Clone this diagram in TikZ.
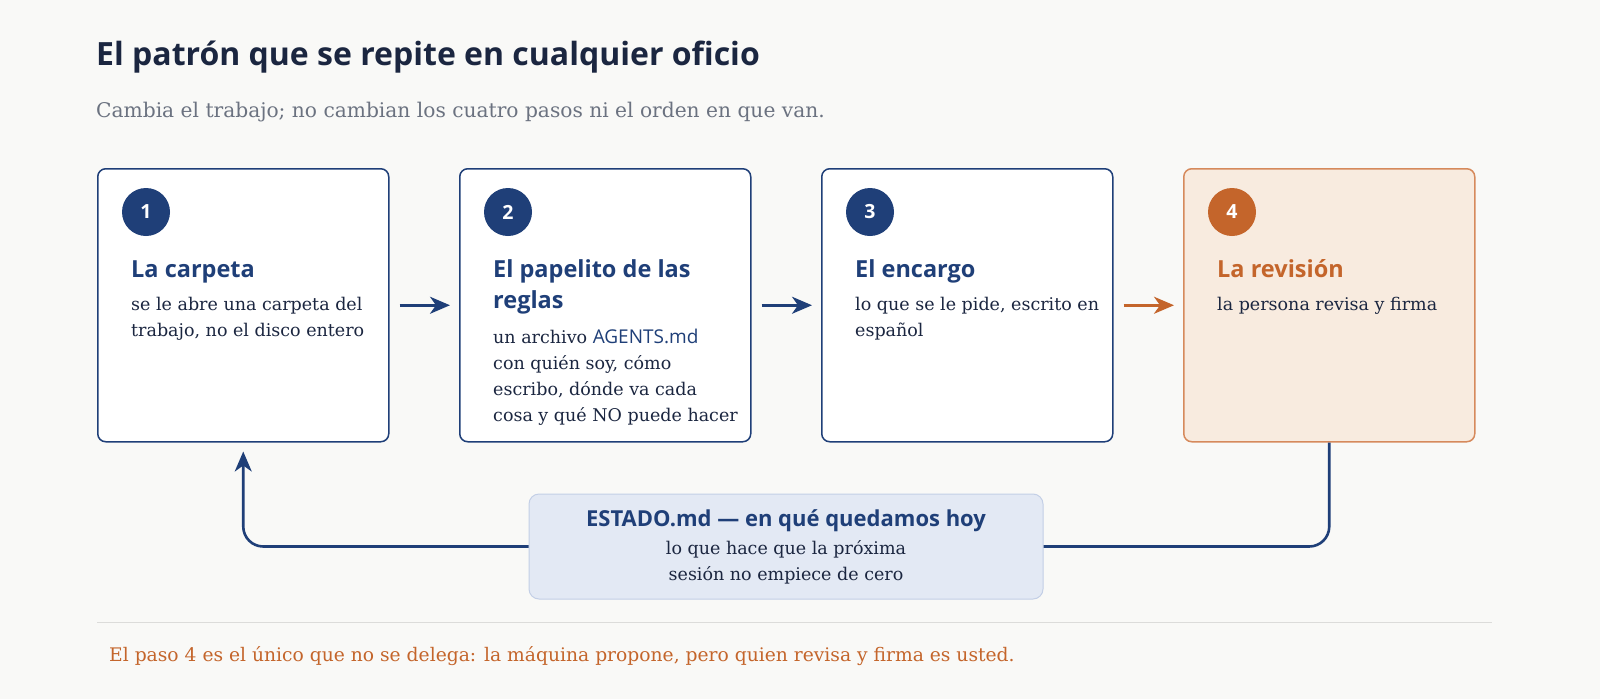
\documentclass[tikz,border=0pt]{standalone}
\usepackage{fontspec}
\setmainfont{DejaVu Serif}
\newfontfamily\titlefont{Open Sans}
\usetikzlibrary{positioning,arrows.meta}

\definecolor{navy}{HTML}{1F3F78}
\definecolor{ink}{HTML}{1B2640}
\definecolor{slate}{HTML}{6B7280}
\definecolor{rust}{HTML}{C4652B}
\definecolor{peach}{HTML}{F8EBDF}
\definecolor{peachline}{HTML}{D68A5C}
\definecolor{mist}{HTML}{E3E9F4}
\definecolor{mistline}{HTML}{C3CFE6}
\definecolor{paper}{HTML}{F9F9F7}
\definecolor{rule}{HTML}{DCDCDA}

\tikzset{
  stepbox/.style={draw=navy, line width=1.5pt, fill=white, rounded corners=8pt,
    minimum width=291pt, minimum height=273pt, inner sep=0pt, anchor=north west},
  badge/.style={circle, fill=navy, minimum size=48pt, inner sep=0pt, text=white,
    font=\titlefont\bfseries\fontsize{19.5}{19.5}\selectfont},
  heading/.style={anchor=base west, inner sep=0pt, text=navy, align=left,
    font=\titlefont\bfseries\fontsize{23.5}{31}\selectfont},
  body/.style={anchor=base west, inner sep=0pt, text=ink, align=left,
    font=\fontsize{17.5}{26}\selectfont},
  link/.style={line width=2.6pt, draw=navy},
  arrow/.style={link, -{Stealth[length=20pt,width=17pt,inset=6pt]}},
}
\newcommand\code[1]{{\titlefont\fontsize{19}{26}\selectfont\color{navy}#1}}

\begin{document}
\begin{tikzpicture}[x=1pt,y=-1pt]

  \fill[paper] (0,0) rectangle (1600,699);
  \useasboundingbox (0,0) rectangle (1600,699);

  \node[anchor=base west, inner sep=0pt, text=ink,
    font=\titlefont\bfseries\fontsize{32}{38}\selectfont] (title) at (96,65)
    {El patrón que se repite en cualquier oficio};
  \node[anchor=base west, inner sep=0pt, text=slate,
    font=\fontsize{20.2}{24}\selectfont] (subtitle) at (96,117)
    {Cambia el trabajo; no cambian los cuatro pasos ni el orden en que van.};

  \node[stepbox] (carpeta) at (97,168) {};
  \node[stepbox] (reglas) at (459,168) {};
  \node[stepbox] (encargo) at (821,168) {};
  \node[stepbox, draw=peachline, fill=peach] (revision) at (1183,168) {};

  \foreach \card/\num in {carpeta/1, reglas/2, encargo/3}
    \node[badge] (n\num) at ([shift={(49,44)}]\card.north west) {\num};
  \node[badge, fill=rust] (n4) at ([shift={(49,44)}]revision.north west) {4};

  % multi-line nodes sit on their last baseline
  \node[heading] (t1) at ([shift={(34,109)}]carpeta.north west) {La carpeta};
  \node[body] (d1) at ([shift={(34,168)}]carpeta.north west)
    {se le abre una carpeta del\\trabajo, no el disco entero};
  \node[heading] (t2) at ([shift={(34,140)}]reglas.north west)
    {El papelito de las\\reglas};
  \node[body] (d2) at ([shift={(34,253)}]reglas.north west)
    {un archivo \code{AGENTS.md}\\con quién soy, cómo\\escribo, dónde va cada\\cosa y qué NO puede hacer};
  \node[heading] (t3) at ([shift={(34,109)}]encargo.north west) {El encargo};
  \node[body] (d3) at ([shift={(34,168)}]encargo.north west)
    {lo que se le pide, escrito en\\español};
  \node[heading, text=rust] (t4) at ([shift={(34,109)}]revision.north west) {La revisión};
  \node[body] (d4) at ([shift={(34,142)}]revision.north west)
    {la persona revisa y firma};

  \draw[arrow, shorten <=10pt, shorten >=9pt] (carpeta) -- (reglas);
  \draw[arrow, shorten <=10pt, shorten >=9pt] (reglas) -- (encargo);
  \draw[arrow, draw=rust, shorten <=10pt, shorten >=9pt] (encargo) -- (revision);

  \node[draw=mistline, fill=mist, line width=1pt, rounded corners=10pt,
    minimum width=514pt, minimum height=105pt, inner sep=0pt] (estado) at (786,546.5) {};
  \node[anchor=base, inner sep=0pt, text=navy,
    font=\titlefont\bfseries\fontsize{22}{26}\selectfont] (estadotitle) at (786,526)
    {ESTADO.md — en qué quedamos hoy};
  \node[body, anchor=base, align=center] (estadotext) at (786,580)
    {lo que hace que la próxima\\sesión no empiece de cero};

  \draw[link, rounded corners=20pt] (revision.south) |- (estado.east);
  \draw[arrow, rounded corners=20pt, shorten >=9pt] (estado.west) -| (carpeta.south);

  \draw[rule, line width=1pt] (97,622) -- (1492,622);
  \node[anchor=base west, inner sep=0pt, text=rust,
    font=\fontsize{18.7}{22}\selectfont] (footer) at (109,661)
    {El paso 4 es el único que no se delega: la máquina propone, pero quien revisa y firma es usted.};

\end{tikzpicture}
\end{document}
